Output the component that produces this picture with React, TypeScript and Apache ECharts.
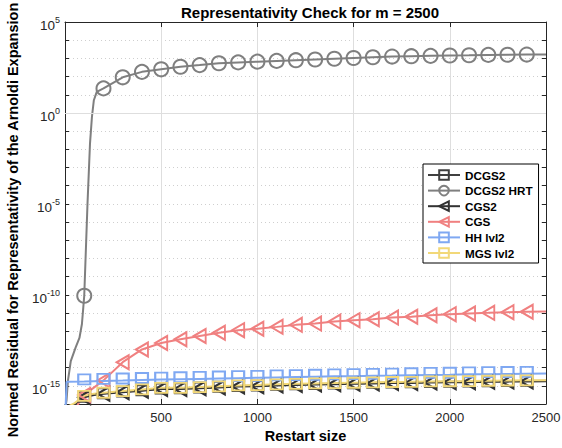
import React, { useEffect, useRef } from 'react';
import * as echarts from 'echarts';

const FONT = '"Liberation Sans", Arial, Helvetica, sans-serif';

// Marker positions (restart sizes with a marker)
const markerX = [100, 200, 300, 400, 500, 600, 700, 800, 900, 1000, 1100, 1200, 1300, 1400, 1500, 1600, 1700, 1800, 1900, 2000, 2100, 2200, 2300, 2400];
const tailX = [200, 300, 400, 500, 600, 700, 800, 900, 1000, 1100, 1200, 1300, 1400, 1500, 1600, 1700, 1800, 1900, 2000, 2100, 2200, 2300, 2400, 2500];

// values are log10 of the normed residual
const dcgs2X = [3, 50, 100, 150, ...tailX];
const dcgs2Y = [-16.3, -16.0, -15.6, -15.46, -15.41, -15.32, -15.24, -15.15, -15.14, -15.1, -15.06, -15.01, -14.99, -14.95, -14.92, -14.9, -14.88, -14.86, -14.84, -14.82, -14.81, -14.79, -14.78, -14.77, -14.75, -14.74, -14.73, -14.72];

const hrtX = [2, 8, 15, 30, 55, 75, 88, 95, 100, 117, 130, 140, 150, 165, ...tailX];
const hrtY = [-16.2, -15.8, -14.74, -13.64, -12.9, -12.37, -11.6, -10.7, -10.05, -4.98, -1.67, -0.22, 0.7, 1.16, 1.35, 1.96, 2.26, 2.4, 2.54, 2.63, 2.73, 2.78, 2.82, 2.86, 2.9, 2.94, 2.98, 3.02, 3.06, 3.1, 3.12, 3.14, 3.16, 3.17, 3.19, 3.2, 3.21, 3.22];

const cgs2X = [3, 50, 100, 150, ...tailX];
const cgs2Y = [-16.4, -16.05, -15.63, -15.5, -15.44, -15.35, -15.27, -15.18, -15.17, -15.13, -15.09, -15.04, -15.02, -14.98, -14.95, -14.93, -14.91, -14.89, -14.87, -14.85, -14.84, -14.82, -14.81, -14.8, -14.78, -14.77, -14.76, -14.75];

const cgsX = [50, 100, ...tailX];
const cgsY = [-16.3, -15.5, -14.7, -13.7, -13.0, -12.65, -12.44, -12.26, -12.08, -11.94, -11.86, -11.76, -11.65, -11.58, -11.47, -11.39, -11.34, -11.25, -11.2, -11.12, -11.06, -11.02, -10.99, -10.95, -10.93, -10.91];

const hhX = [2, 8, 100, ...tailX];
const hhY = [-16.5, -14.78, -14.76, -14.73, -14.71, -14.68, -14.66, -14.64, -14.62, -14.6, -14.58, -14.56, -14.54, -14.52, -14.5, -14.48, -14.47, -14.45, -14.44, -14.42, -14.4, -14.39, -14.37, -14.36, -14.35, -14.34, -14.33];

const mgsX = [4, 50, 100, 150, ...tailX];
const mgsY = [-16.2, -15.95, -15.55, -15.43, -15.38, -15.29, -15.2, -15.11, -15.11, -15.07, -15.03, -14.98, -14.96, -14.92, -14.89, -14.87, -14.85, -14.83, -14.81, -14.79, -14.78, -14.76, -14.75, -14.74, -14.72, -14.71, -14.7, -14.69];

const seriesNames = ['DCGS2', 'DCGS2 HRT', 'CGS2', 'CGS', 'HH lvl2', 'MGS lvl2'];
const yTickExps = [-15, -10, -5, 0, 5];
const yAxisTitle = 'Normed Residual for Representativity of the Arnoldi Expansion';

const LEFT_TRI = 'path://M0,7 L12,0 L12,14 Z';

function mkSeries(name: string, xs: number[], ys: number[], color: string, symbol: string, size: any, offset: number[] = [0, 0]) {
  const set = new Set(markerX);
  return {
    name,
    type: 'line',
    showAllSymbol: true,
    symbol,
    symbolSize: size,
    symbolOffset: offset,
    lineStyle: { color, width: 2 },
    itemStyle: { color: 'rgba(0,0,0,0)', borderColor: color, borderWidth: 2 },
    emphasis: { disabled: true },
    data: xs.map((x, i) => (set.has(x) ? { value: [x, Math.pow(10, ys[i])] } : { value: [x, Math.pow(10, ys[i])], symbol: 'none' })),
    z: 3,
  };
}

export default function App() {
  const ref = useRef<HTMLDivElement>(null);
  useEffect(() => {
    if (!ref.current) return;
    const chart = echarts.init(ref.current, null, { renderer: 'svg' });
    const axisColor = '#262626';
    const option: any = {
      animation: false,
      backgroundColor: '#fff',
      title: {
        text: 'Representativity Check for m = 2500',
        left: 305,
        top: 0,
        textAlign: 'center',
        textStyle: { fontFamily: FONT, fontSize: 15, fontWeight: 'bold', color: '#000' },
      },
      grid: { left: 65, top: 22, width: 481, height: 382, outerBoundsMode: 'none', containLabel: false },
      graphic: [
        {
          type: 'text',
          x: 13,
          y: 220,
          rotation: Math.PI / 2,
          style: {
            text: yAxisTitle,
            font: `bold 14.5px ${FONT}`,
            fill: '#000',
            align: 'center',
            verticalAlign: 'middle',
          },
        },
      ],
      legend: {
        orient: 'vertical',
        left: 423,
        top: 164,
        itemWidth: 32,
        itemHeight: 12,
        itemGap: 3.6,
        padding: [5, 6, 4, 4],
        backgroundColor: '#fff',
        borderColor: '#000',
        borderWidth: 1,
        borderRadius: 0,
        textStyle: { fontFamily: FONT, fontSize: 11.7, fontWeight: 'bold', color: '#000' },
        data: seriesNames,
      },
      xAxis: [
        {
          type: 'value',
          min: 0,
          max: 2500,
          interval: 500,
          name: 'Restart size',
          nameLocation: 'middle',
          nameGap: 23,
          nameTextStyle: { fontFamily: FONT, fontSize: 14.5, fontWeight: 'bold', color: '#000' },
          axisLine: { show: true, onZero: false, lineStyle: { color: axisColor } },
          axisTick: { show: true, inside: true, length: 5, lineStyle: { color: axisColor } },
          axisLabel: {
            fontFamily: FONT, fontSize: 13, color: axisColor, margin: 7,
            formatter: (v: number) => (v === 0 ? '' : String(v)),
          },
          splitLine: { show: true, lineStyle: { color: '#dedede', width: 1 } },
        },
        {
          type: 'value',
          position: 'top',
          min: 0,
          max: 2500,
          interval: 500,
          axisLine: { show: true, onZero: false, lineStyle: { color: axisColor } },
          axisTick: { show: true, inside: true, length: 5, lineStyle: { color: axisColor } },
          axisLabel: { show: false },
          splitLine: { show: false },
        },
      ],
      yAxis: [
        {
          type: 'log',
          logBase: 10,
          min: 1e-16,
          max: 1e5,
          interval: 1,
          axisLine: { show: true, onZero: false, lineStyle: { color: axisColor } },
          axisTick: { show: true, inside: true, length: 4, lineStyle: { color: axisColor } },
          axisLabel: {
            margin: 5,
            formatter: (v: number) => {
              const e = Math.round(Math.log10(v));
              return yTickExps.includes(e) ? `{b|10}{s|${e}}` : '';
            },
            rich: {
              b: { fontFamily: FONT, fontSize: 13.5, color: axisColor, padding: [7, 0, 0, 0] },
              s: { fontFamily: FONT, fontSize: 9, color: axisColor, padding: [0, 0, 4, 0] },
            },
          },
          splitLine: { show: true, lineStyle: { color: '#cfcfcf', type: [1, 3], width: 1 } },
        },
        {
          type: 'log',
          logBase: 10,
          min: 1e-16,
          max: 1e5,
          interval: 1,
          position: 'right',
          axisLine: { show: true, onZero: false, lineStyle: { color: axisColor } },
          axisTick: { show: true, inside: true, length: 4, lineStyle: { color: axisColor } },
          axisLabel: { show: false },
          splitLine: { show: false },
        },
      ],
      series: [
        {
          name: 'grid-major',
          type: 'line',
          data: [],
          z: 1,
          silent: true,
          markLine: {
            silent: true,
            symbol: ['none', 'none'],
            label: { show: false },
            lineStyle: { color: '#dedede', type: 'solid', width: 1 },
            data: yTickExps.slice(0, 4).map((e) => ({ yAxis: Math.pow(10, e) })),
          },
        },
        mkSeries('DCGS2', dcgs2X, dcgs2Y, '#404040', 'rect', [11, 10]),
        mkSeries('DCGS2 HRT', hrtX, hrtY, '#7f7f7f', 'circle', 14),
        mkSeries('CGS2', cgs2X, cgs2Y, '#333333', LEFT_TRI, [12, 14]),
        mkSeries('CGS', cgsX, cgsY, '#f08080', LEFT_TRI, [12, 14]),
        mkSeries('HH lvl2', hhX, hhY, '#7fa8f2', 'rect', [12, 10], [0, -2]),
        mkSeries('MGS lvl2', mgsX, mgsY, '#f2d878', 'rect', [12, 10]),
      ],
    };
    chart.setOption(option);
    return () => chart.dispose();
  }, []);
  return <div ref={ref} style={{ width: 562, height: 448, position: 'absolute', left: 0, top: 0 }} />;
}
